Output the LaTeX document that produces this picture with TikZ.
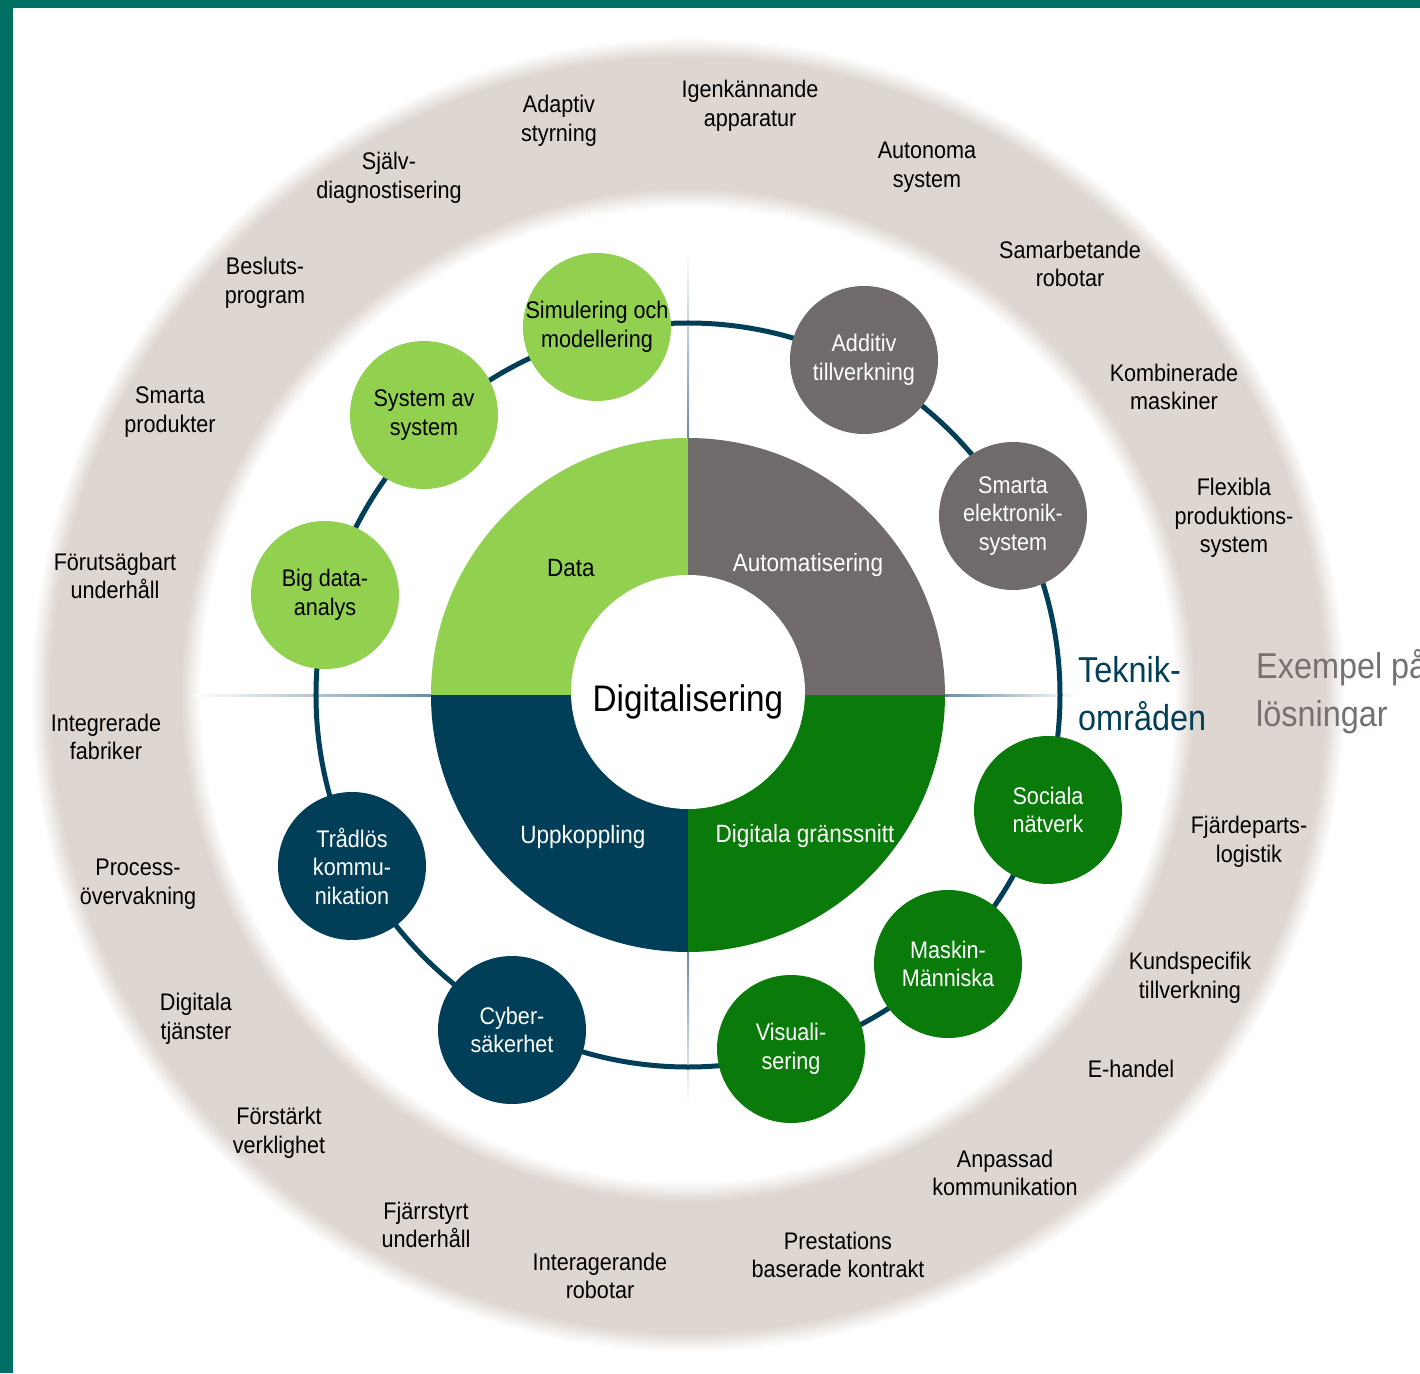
\documentclass[tikz,border=0pt]{standalone}
\usepackage{fontspec}
\setmainfont{Liberation Sans}[FakeStretch=0.9]
\definecolor{frameteal}{RGB}{0,112,100}
\definecolor{ringbeige}{RGB}{222,214,208}
\definecolor{datagreen}{RGB}{146,208,80}
\definecolor{autogray}{RGB}{112,107,106}
\definecolor{uppnavy}{RGB}{0,63,87}
\definecolor{grsgreen}{RGB}{10,122,10}
\definecolor{crossblue}{RGB}{110,140,160}
\definecolor{exgray}{RGB}{118,113,112}

\begin{document}
\begin{tikzpicture}[
					x = 1pt, y = 1pt,
					every node/.style = {inner sep = 0, align = center},
					bubble/.style = {circle, minimum size = 148, inner sep = -8pt, font = \fontsize{24}{28.5}\selectfont},
					sol/.style = {font = \fontsize{24}{28.5}\selectfont, text = black, yshift = -3},
					area/.style = {font = \fontsize{25}{30}\selectfont},
					heading/.style = {anchor = west, align = left, font = \fontsize{36}{48}\selectfont}]

					\useasboundingbox (-688,-678) rectangle (732,695);
					\clip (-688,-678) rectangle (732,695);

					\fill[ringbeige, even odd rule] (0,0) circle (638) (0,0) circle (506);
					\foreach \i in {1,...,20}{
						\pgfmathtruncatemacro{\p}{100-5*\i}
						\draw[ringbeige!\p!white, line width = 1.6] (0,0) circle (637.5+\i) (0,0) circle (506.5-\i);
					}

					\fill[frameteal] (-688,-678) rectangle (-675,695);
					\fill[frameteal] (-688,687) rectangle (732,695);

					\shade[left color = white, right color = crossblue] (-495,-1) rectangle (-257,1);
					\shade[left color = crossblue, right color = white] (257,-1) rectangle (390,1);
					\shade[top color = white, bottom color = crossblue] (-1,257) rectangle (1,445);
					\shade[top color = crossblue, bottom color = white] (-1,-257) rectangle (1,-410);

					\draw[uppnavy, line width = 5] (0,0) circle (372);

					\fill[datagreen] (0,0) -- (90:257) arc (90:180:257) -- cycle;
					\fill[autogray] (0,0) -- (0:257) arc (0:90:257) -- cycle;
					\fill[uppnavy] (0,0) -- (180:257) arc (180:270:257) -- cycle;
					\fill[grsgreen] (0,0) -- (270:257) arc (270:360:257) -- cycle;
					\node[circle, fill = white, minimum size = 234] (hub) at (0,3) {};
					\node[font = \fontsize{37}{44}\selectfont] (dig) at (0,-7) {Digitalisering};

					\node[area] (data) at (-117,127) {Data};
					\node[area, text = white] (auto) at (120,130) {Automatisering};
					\node[area, text = white] (upp) at (-105,-142) {Uppkoppling};
					\node[area, text = white] (grs) at (117,-141) {Digitala gränssnitt};

					\node[bubble, fill = datagreen] (sim) at (-91,368) {Simulering och\\modellering};
					\node[bubble, fill = datagreen] (sys) at (-264,280) {System av\\system};
					\node[bubble, fill = datagreen] (big) at (-363,100) {Big data-\\analys};
					\node[bubble, fill = autogray, text = white] (add) at (176,335) {Additiv\\tillverkning};
					\node[bubble, fill = autogray, text = white] (sma) at (325,179) {Smarta\\elektronik-\\system};
					\node[bubble, fill = grsgreen, text = white] (soc) at (360,-115) {Sociala\\nätverk};
					\node[bubble, fill = grsgreen, text = white] (mas) at (260,-269) {Maskin-\\Människa};
					\node[bubble, fill = grsgreen, text = white] (vis) at (103,-354) {Visuali-\\sering};
					\node[bubble, fill = uppnavy, text = white] (cyb) at (-176,-335) {Cyber-\\säkerhet};
					\node[bubble, fill = uppnavy, text = white] (tra) at (-336,-171) {Trådlös\\kommu-\\nikation};

					\node[heading, text = uppnavy] (tek) at (390,1) {Teknik-\\områden};
					\node[heading, text = exgray] (exe) at (568,3) {Exempel på\\lösningar};

					\node[sol] (ada) at (-129,577) {Adaptiv\\styrning};
					\node[sol] (igk) at (62,592) {Igenkännande\\apparatur};
					\node[sol] (aut) at (239,531) {Autonoma\\system};
					\node[sol] (sam) at (382,434) {Samarbetande\\robotar};
					\node[sol] (kom) at (486,311) {Kombinerade\\maskiner};
					\node[sol] (fle) at (546,180) {Flexibla\\produktions-\\system};
					\node[sol] (fja) at (561,-144) {Fjärdeparts-\\logistik};
					\node[sol] (kun) at (502,-280) {Kundspecifik\\tillverkning};
					\node[sol] (eha) at (443,-371) {E-handel};
					\node[sol] (anp) at (317,-475) {Anpassad\\kommunikation};
					\node[sol] (pre) at (150,-557) {Prestations\\baserade kontrakt};
					\node[sol] (int) at (-88,-578) {Interagerande\\robotar};
					\node[sol] (fjs) at (-262,-527) {Fjärrstyrt\\underhåll};
					\node[sol] (for) at (-409,-435) {Förstärkt\\verklighet};
					\node[sol] (dgt) at (-492,-321) {Digitala\\tjänster};
					\node[sol] (pro) at (-550,-186) {Process-\\övervakning};
					\node[sol] (ifa) at (-582,-39) {Integrerade\\fabriker};
					\node[sol] (fun) at (-573,122) {Förutsägbart\\underhåll};
					\node[sol] (spr) at (-518,286) {Smarta\\produkter};
					\node[sol] (bes) at (-423,415) {Besluts-\\program};
					\node[sol] (sja) at (-299,520) {Själv-\\diagnostisering};

				\end{tikzpicture}
\end{document}
